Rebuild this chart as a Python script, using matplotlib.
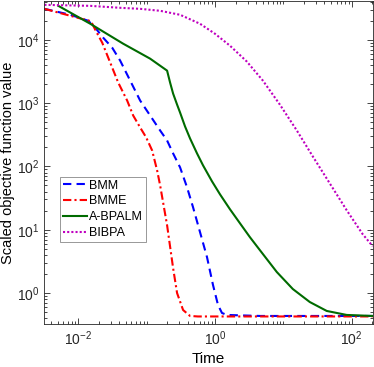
import numpy as np
import matplotlib
matplotlib.use("Agg")
import matplotlib.pyplot as plt
from matplotlib.ticker import LogLocator, NullFormatter

plt.rcParams['font.family'] = ['Liberation Sans', 'DejaVu Sans']
plt.rcParams['mathtext.fontset'] = 'custom'
plt.rcParams['mathtext.rm'] = 'Liberation Sans'
plt.rcParams['mathtext.it'] = 'Liberation Sans:italic'

# values, as log10(time) / log10(value)
bmm_logt = [-2.496, -2.117, -1.854, -1.752, -1.635, -1.504, -1.387, -1.241, -1.095, -0.949,
            -0.803, -0.701, -0.613, -0.511, -0.409, -0.321, -0.219, -0.117, -0.029, 0.044,
            0.102, 0.175, 0.657, 2.307]
bmm_logv = [4.488, 4.394, 4.299, 4.189, 4.031, 3.874, 3.669, 3.354, 3.039, 2.803,
            2.567, 2.409, 2.205, 1.984, 1.669, 1.354, 0.961, 0.567, 0.126, -0.189,
            -0.315, -0.346, -0.362, -0.362]

bmme_logt = [-2.496, -2.117, -1.898, -1.840, -1.810, -1.752, -1.650, -1.533, -1.416, -1.285,
             -1.197, -1.095, -1.007, -0.920, -0.847, -0.803, -0.701, -0.613, -0.555, -0.467,
             -0.365, -0.250, 2.307]
bmme_logv = [4.488, 4.378, 4.315, 4.300, 4.283, 4.157, 3.953, 3.638, 3.323, 3.039,
             2.803, 2.614, 2.457, 2.252, 1.937, 1.701, 1.071, 0.394, 0.000, -0.268,
             -0.362, -0.370, -0.370]

abpalm_logt = [-2.292, -1.825, -1.343, -0.949, -0.701, -0.657, -0.613, -0.555, -0.511, -0.438,
               -0.365, -0.263, -0.175, -0.044, 0.073, 0.219, 0.365, 0.511, 0.657, 0.905,
               1.139, 1.387, 1.635, 1.927, 2.307]
abpalm_logv = [4.535, 4.252, 3.937, 3.701, 3.512, 3.323, 3.150, 2.976, 2.850, 2.630,
               2.441, 2.205, 2.016, 1.764, 1.559, 1.323, 1.102, 0.882, 0.677, 0.331,
               0.063, -0.142, -0.283, -0.346, -0.362]

bibpa_logt = [-2.496, -1.825, -1.387, -1.095, -0.803, -0.511, -0.219, 0.000, 0.219, 0.467,
              0.701, 0.949, 1.197, 1.431, 1.679, 1.927, 2.161, 2.307]
bibpa_logv = [4.551, 4.535, 4.504, 4.488, 4.457, 4.394, 4.252, 4.094, 3.906, 3.654,
              3.354, 2.976, 2.567, 2.157, 1.732, 1.307, 0.929, 0.740]

fig = plt.figure(figsize=(3.74, 3.67), dpi=100)
ax = fig.add_axes([0.118, 0.117, 0.879, 0.880])

ax.plot(10 ** np.array(bmm_logt), 10 ** np.array(bmm_logv), '--', color='b', lw=1.5,
        dashes=(4, 2.5), label='BMM')
ax.plot(10 ** np.array(bmme_logt), 10 ** np.array(bmme_logv), '-.', color='r', lw=1.5,
        dashes=(4, 1.5, 1, 1.5), label='BMME')
ax.plot(10 ** np.array(abpalm_logt), 10 ** np.array(abpalm_logv), '-', color=(0, 0.42, 0),
        lw=1.5, label='A-BPALM')
ax.plot(10 ** np.array(bibpa_logt), 10 ** np.array(bibpa_logv), ':', color='m', lw=1.5,
        dashes=(1, 1), label='BIBPA')

ax.set_xscale('log')
ax.set_yscale('log')
ax.set_xlim(10 ** -2.5, 10 ** 2.31)
ax.set_ylim(10 ** -0.49, 10 ** 4.61)

ax.xaxis.set_major_locator(LogLocator(base=100))
ax.xaxis.set_minor_locator(LogLocator(base=10, subs=np.arange(1, 10)))
ax.xaxis.set_minor_formatter(NullFormatter())
ax.yaxis.set_major_locator(LogLocator(base=10))
ax.yaxis.set_minor_locator(LogLocator(base=10, subs=np.arange(2, 10)))
ax.yaxis.set_minor_formatter(NullFormatter())

ax.tick_params(which='both', direction='in', top=True, right=True, colors='#262626',
               labelsize=10, width=0.6)
ax.tick_params(which='major', length=4)
ax.tick_params(which='minor', length=2)
for s in ax.spines.values():
    s.set_color('#262626')
    s.set_linewidth(0.6)

ax.set_xlabel('Time', fontsize=11, labelpad=3)
ax.set_ylabel('Scaled objective function value', fontsize=10.5, labelpad=1)

leg = ax.legend(loc='lower left', bbox_to_anchor=(0.049, 0.254), fontsize=9,
                fancybox=False, framealpha=1, edgecolor='#888888',
                handlelength=1.9, handletextpad=0.15, borderpad=0.25, labelspacing=0.3,
                borderaxespad=0)
leg.get_frame().set_linewidth(0.6)

fig.savefig('out.png', dpi=100)
